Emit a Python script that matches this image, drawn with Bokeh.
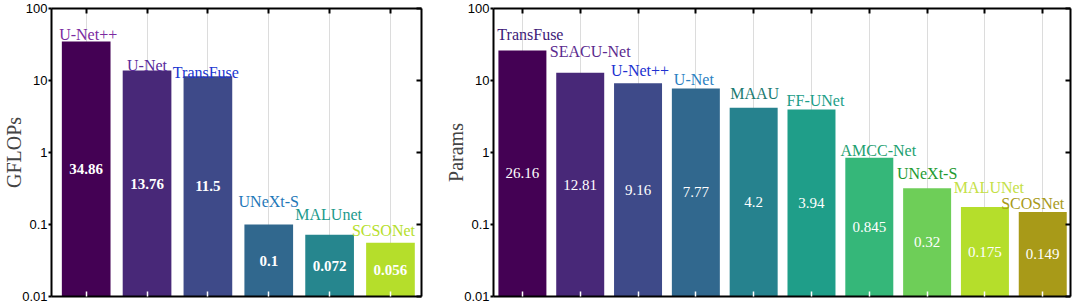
import math
from bokeh.plotting import figure
from bokeh.models import Range1d, LogAxis, LinearAxis, FixedTicker, CustomJSTickFormatter, ColumnDataSource
from bokeh.layouts import row
from bokeh.core.properties import value
from bokeh.embed import file_html
from bokeh.resources import INLINE

# ---------------- data ----------------
flops_models = ["U-Net++", "U-Net", "TransFuse", "UNeXt-S", "MALUnet", "SCSONet"]
flops_values = [34.86, 13.76, 11.5, 0.1, 0.072, 0.056]

params_models = ["TransFuse", "SEACU-Net", "U-Net++", "U-Net", "MAAU", "FF-UNet",
                 "AMCC-Net", "UNeXt-S", "MALUNet", "SCOSNet"]
params_values = [26.16, 12.81, 9.16, 7.77, 4.2, 3.94, 0.845, 0.32, 0.175, 0.149]

y_ticks = [0.01, 0.1, 1, 10, 100]

# ---------------- styles ----------------
flops_bar_colors = ["#440154", "#482878", "#3e4a89", "#31688e", "#26868e", "#b5de2b"]
flops_name_colors = ["#7b2aa0", "#5a2a9c", "#2036d0", "#1f78b8", "#1c9a8c", "#b5de2b"]
flops_name_dx = [2, 0, -2, 0, -1, -7]
flops_name_dy = [-7, -5, -4, -23, -20, -12]

params_bar_colors = ["#440154", "#482878", "#3e4a89", "#31688e", "#26828e", "#1f9e89",
                     "#35b779", "#6ece58", "#b5de2b", "#a89a18"]
params_name_colors = ["#3e1a78", "#5a2a8e", "#2030d0", "#2a80c2", "#1a7a70", "#1a9e88",
                      "#22a070", "#1e9a30", "#c4e045", "#a89a18"]
params_name_dx = [8, 10, 2, -2, 1, 4, 9, 0, 4, -10]
params_name_dy = [-16, -21, -13, -9, -14, -9, -7, -15, -20, -9]

SERIF = "Liberation Serif"
SANS = "Liberation Sans"
EMPTY = CustomJSTickFormatter(code="return '';")


def make_panel(models, values, bar_colors, name_colors, name_dx, name_dy,
               x_pad_left, x_pad_right, bar_width, width, border_left, border_right,
               ylabel, value_style):
    n = len(models)
    xs = list(range(n))
    ymin, ymax = y_ticks[0], y_ticks[-1]
    src = ColumnDataSource(dict(
        x=xs, top=values, color=bar_colors, name=models, ncolor=name_colors,
        dx=name_dx, dy=name_dy,
        vy=[math.sqrt(v * ymin) for v in values],
        vtext=[str(v) for v in values],
    ))
    p = figure(width=width, height=304,
               x_range=Range1d(-x_pad_left, n - 1 + x_pad_right),
               y_range=Range1d(ymin, ymax), y_axis_type="log",
               output_backend="svg", toolbar_location=None,
               min_border_left=border_left, min_border_right=border_right,
               min_border_top=8, min_border_bottom=8)
    p.background_fill_color = "white"
    p.border_fill_color = "white"
    p.outline_line_color = None

    xt = FixedTicker(ticks=xs)
    yt = FixedTicker(ticks=y_ticks)

    # grid
    p.xgrid.ticker = xt
    p.xgrid.grid_line_color = "#dcdcdc"
    p.xgrid.grid_line_width = 1
    p.ygrid.grid_line_color = None

    p.vbar(x="x", top="top", bottom=ymin, width=bar_width, fill_color="color",
           line_color=None, source=src)

    p.text(x="x", y="top", text="name", text_color="ncolor", x_offset="dx", y_offset="dy",
           text_align="center", text_baseline="alphabetic",
           text_font=value(SERIF), text_font_size="16px", source=src)
    p.text(x="x", y="vy", text="vtext", text_color="white",
           text_align="center", text_baseline="middle",
           text_font=value(SERIF), text_font_size="15px",
           text_font_style=value_style, source=src)

    # left axis
    ya = p.yaxis[0]
    ya.ticker = yt
    ya.formatter = CustomJSTickFormatter(code="return String(tick);")
    ya.axis_line_width = 2
    ya.major_tick_line_width = 2
    ya.major_tick_out = 3
    ya.major_tick_in = 0
    ya.minor_tick_line_color = None
    ya.major_label_standoff = 1
    ya.major_label_text_font = SANS
    ya.major_label_text_font_size = "13px"
    ya.major_label_text_color = "black"
    ya.axis_label = ylabel
    ya.axis_label_text_font = SERIF
    ya.axis_label_text_font_style = "normal"
    ya.axis_label_text_font_size = "20px"
    ya.axis_label_text_line_height = 0.9
    ya.axis_label_standoff = -6

    # bottom axis
    xa = p.xaxis[0]
    xa.ticker = xt
    xa.formatter = EMPTY
    xa.axis_line_width = 2
    xa.major_tick_in = 5
    xa.major_tick_out = 0
    xa.major_tick_line_color = "white"
    xa.major_tick_line_width = 1.5
    xa.minor_tick_line_color = None
    xa.major_label_standoff = 0
    xa.major_label_text_font_size = "1px"

    # right axis
    ra = LogAxis(ticker=yt, formatter=EMPTY)
    ra.axis_line_width = 2
    ra.major_tick_in = 5
    ra.major_tick_out = 0
    ra.major_tick_line_width = 2
    ra.minor_tick_line_color = None
    ra.major_label_standoff = 0
    ra.major_label_text_font_size = "1px"
    p.add_layout(ra, "right")

    # top axis
    ta = LinearAxis(ticker=xt, formatter=EMPTY)
    ta.axis_line_width = 2
    ta.major_tick_in = 5
    ta.major_tick_out = 0
    ta.major_tick_line_width = 2
    ta.minor_tick_line_color = None
    ta.major_label_standoff = 0
    ta.major_label_text_font_size = "1px"
    p.add_layout(ta, "above")
    return p


p1 = make_panel(flops_models, flops_values, flops_bar_colors, flops_name_colors,
                flops_name_dx, flops_name_dy, 0.57, 0.51, 0.8, 430, 50, 9,
                "GFLOPs", "bold")
p2 = make_panel(params_models, params_values, params_bar_colors, params_name_colors,
                params_name_dx, params_name_dy, 0.5, 0.48, 0.83, 642, 63, 2,
                "Params", "normal")

layout = row(p1, p2)
open("out.html", "w").write(file_html(layout, INLINE))
